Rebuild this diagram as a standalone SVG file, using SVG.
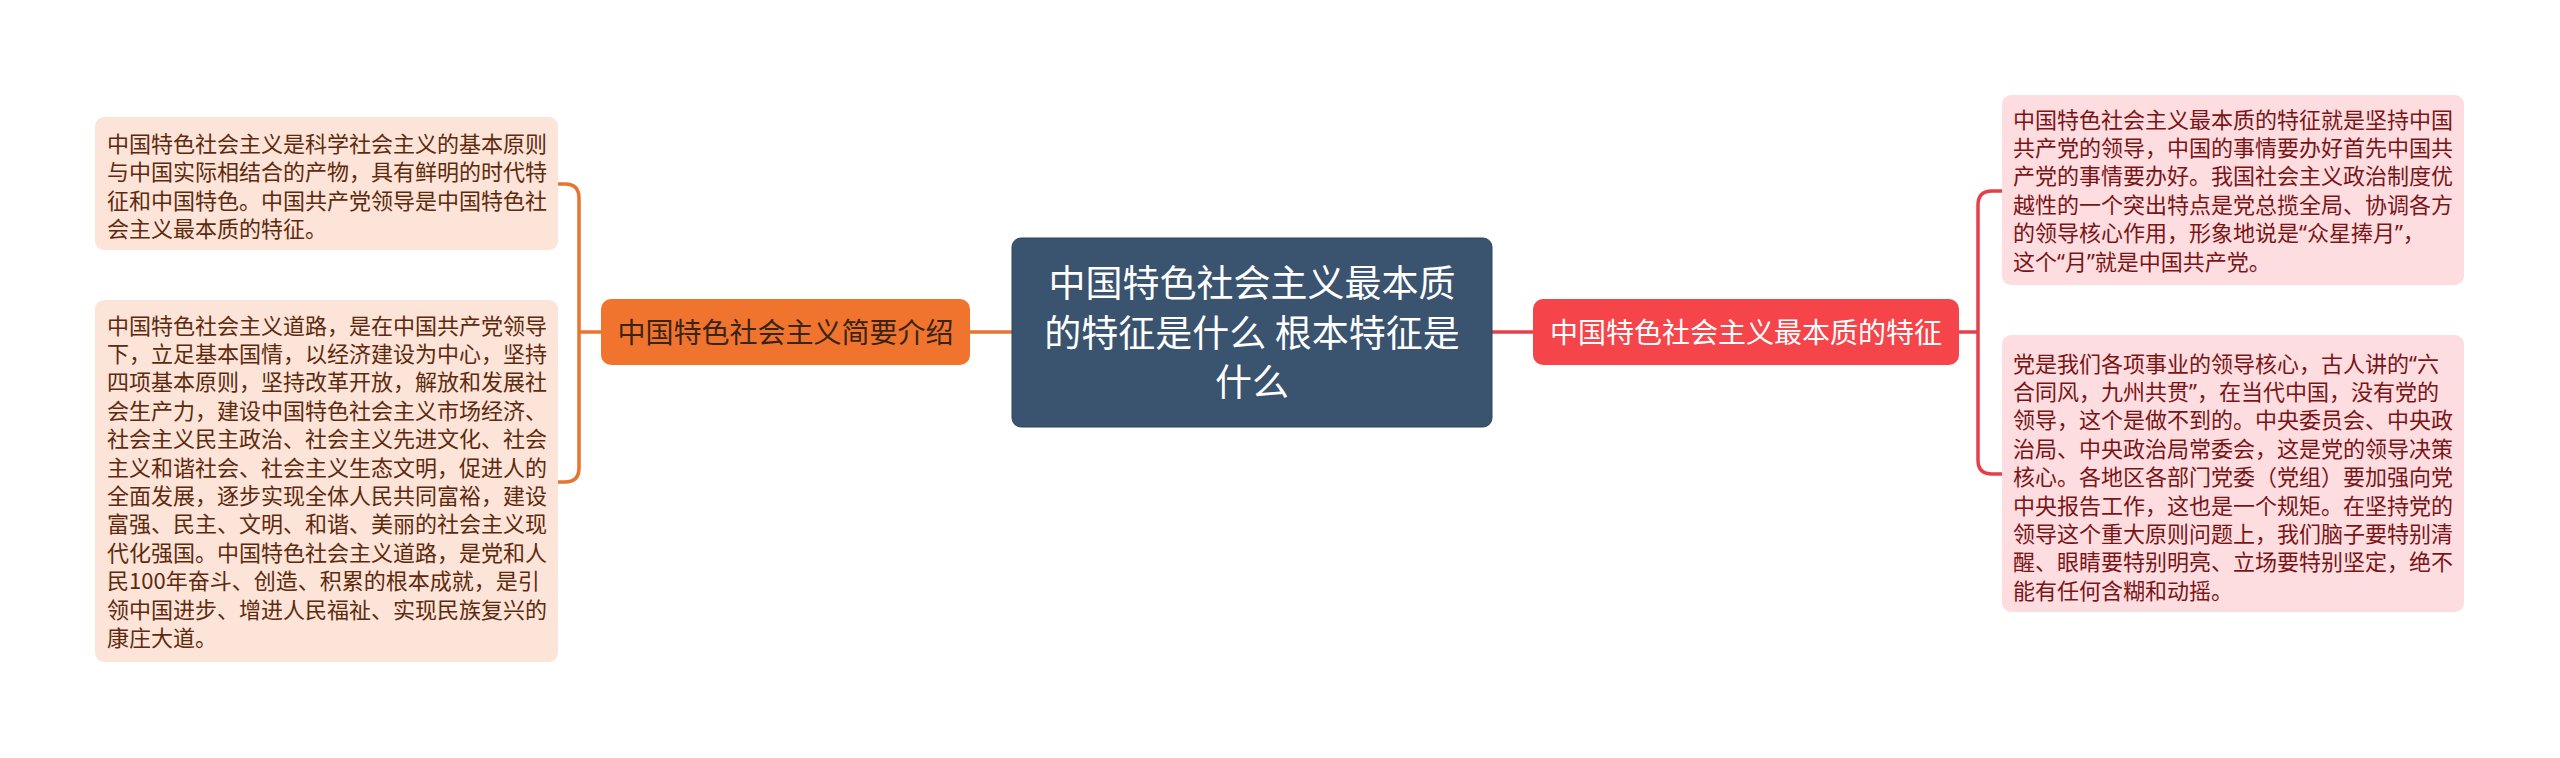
<svg xmlns="http://www.w3.org/2000/svg" width="2560" height="758" viewBox="0 0 2560 758">
<style>
text{font-family:"Noto Sans CJK SC","Noto Sans",sans-serif;}
.q{font-family:"Noto Sans","Noto Sans CJK SC",sans-serif;}
.lleaf{fill:#FCE4D8;}
.rleaf{fill:#FDDDE0;}
.lt{font-size:22px;fill:#5E2A0E;}
.rt{font-size:22px;fill:#7A1416;}
.lc{fill:none;stroke:#E8742E;stroke-width:3.5;}
.rc{fill:none;stroke:#E5404A;stroke-width:3.5;}
</style>
<rect width="2560" height="758" fill="#FFFFFF"/>
<g id="connectors">
<path class="lc" d="M1012 332 H970"/>
<path class="lc" d="M601 332 H579"/>
<path class="lc" d="M558 184 H565 Q579 184 579 198 V468 Q579 482 565 482 H558"/>
<path class="rc" d="M1492 332 H1533"/>
<path class="rc" d="M1959 332 H1978"/>
<path class="rc" d="M2002 191 H1992 Q1978 191 1978 205 V460 Q1978 474 1992 474 H2002"/>
</g>
<g id="center">
<rect x="1012" y="238" width="480" height="189" rx="9" fill="#3A536F" stroke="#2E4560" stroke-width="1"/>
<text x="1252" y="297" font-size="37" fill="#FFFFFF" text-anchor="middle">中国特色社会主义最本质</text>
<text x="1252" y="347" font-size="37" fill="#FFFFFF" text-anchor="middle">的特征是什么 根本特征是</text>
<text x="1252" y="396" font-size="37" fill="#FFFFFF" text-anchor="middle">什么</text>
</g>
<g id="branch-left">
<rect x="601" y="299" width="369" height="66" rx="10" fill="#F1742E"/>
<text x="785.5" y="342.5" font-size="28" fill="#3A2416" text-anchor="middle">中国特色社会主义简要介绍</text>
</g>
<g id="branch-right">
<rect x="1533" y="299" width="426" height="66" rx="10" fill="#F5444A"/>
<text x="1746" y="342.5" font-size="28" fill="#FFFFFF" text-anchor="middle">中国特色社会主义最本质的特征</text>
</g>
<g id="leaf-left-1">
<rect class="lleaf" x="95" y="117" width="463" height="133" rx="9"/>
<text class="lt" x="107" y="152">
<tspan x="107">中国特色社会主义是科学社会主义的基本原则</tspan>
<tspan x="107" dy="28.4">与中国实际相结合的产物，具有鲜明的时代特</tspan>
<tspan x="107" dy="28.4">征和中国特色。中国共产党领导是中国特色社</tspan>
<tspan x="107" dy="28.4">会主义最本质的特征。</tspan>
</text>
</g>
<g id="leaf-left-2">
<rect class="lleaf" x="95" y="300" width="463" height="362" rx="9"/>
<text class="lt" x="107" y="333.5">
<tspan x="107">中国特色社会主义道路，是在中国共产党领导</tspan>
<tspan x="107" dy="28.4">下，立足基本国情，以经济建设为中心，坚持</tspan>
<tspan x="107" dy="28.4">四项基本原则，坚持改革开放，解放和发展社</tspan>
<tspan x="107" dy="28.4">会生产力，建设中国特色社会主义市场经济、</tspan>
<tspan x="107" dy="28.4">社会主义民主政治、社会主义先进文化、社会</tspan>
<tspan x="107" dy="28.4">主义和谐社会、社会主义生态文明，促进人的</tspan>
<tspan x="107" dy="28.4">全面发展，逐步实现全体人民共同富裕，建设</tspan>
<tspan x="107" dy="28.4">富强、民主、文明、和谐、美丽的社会主义现</tspan>
<tspan x="107" dy="28.4">代化强国。中国特色社会主义道路，是党和人</tspan>
<tspan x="107" dy="28.4">民100年奋斗、创造、积累的根本成就，是引</tspan>
<tspan x="107" dy="28.4">领中国进步、增进人民福祉、实现民族复兴的</tspan>
<tspan x="107" dy="28.4">康庄大道。</tspan>
</text>
</g>
<g id="leaf-right-1">
<rect class="rleaf" x="2002" y="95" width="462" height="190" rx="9"/>
<text class="rt" x="2013" y="127.5">
<tspan x="2013">中国特色社会主义最本质的特征就是坚持中国</tspan>
<tspan x="2013" dy="28.4">共产党的领导，中国的事情要办好首先中国共</tspan>
<tspan x="2013" dy="28.4">产党的事情要办好。我国社会主义政治制度优</tspan>
<tspan x="2013" dy="28.4">越性的一个突出特点是党总揽全局、协调各方</tspan>
<tspan x="2013" dy="28.4">的领导核心作用，形象地说是<tspan class="q">“</tspan>众星捧月<tspan class="q">”</tspan>，</tspan>
<tspan x="2013" dy="28.4">这个<tspan class="q">“</tspan>月<tspan class="q">”</tspan>就是中国共产党。</tspan>
</text>
</g>
<g id="leaf-right-2">
<rect class="rleaf" x="2002" y="335" width="462" height="277" rx="9"/>
<text class="rt" x="2013" y="371.5">
<tspan x="2013">党是我们各项事业的领导核心，古人讲的<tspan class="q">“</tspan>六</tspan>
<tspan x="2013" dy="28.4">合同风，九州共贯<tspan class="q">”</tspan>，在当代中国，没有党的</tspan>
<tspan x="2013" dy="28.4">领导，这个是做不到的。中央委员会、中央政</tspan>
<tspan x="2013" dy="28.4">治局、中央政治局常委会，这是党的领导决策</tspan>
<tspan x="2013" dy="28.4">核心。各地区各部门党委（党组）要加强向党</tspan>
<tspan x="2013" dy="28.4">中央报告工作，这也是一个规矩。在坚持党的</tspan>
<tspan x="2013" dy="28.4">领导这个重大原则问题上，我们脑子要特别清</tspan>
<tspan x="2013" dy="28.4">醒、眼睛要特别明亮、立场要特别坚定，绝不</tspan>
<tspan x="2013" dy="28.4">能有任何含糊和动摇。</tspan>
</text>
</g>
</svg>
